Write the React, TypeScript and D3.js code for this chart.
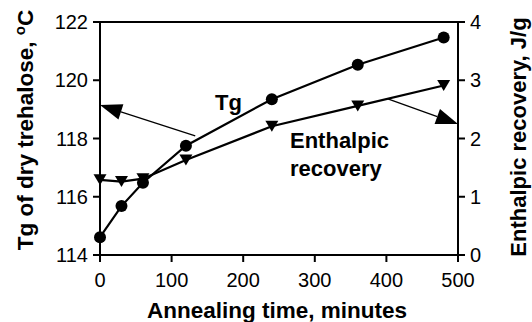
import React from "react";
import * as d3 from "d3";

// Annealing time (minutes) at which each sample was measured
const times = [0, 30, 60, 120, 240, 360, 480];
// Glass transition temperature of dry trehalose, °C (left axis)
const tgValues = [114.61, 115.68, 116.48, 117.75, 119.35, 120.53, 121.47];
// Enthalpic recovery, J/g (right axis)
const enthalpyValues = [1.29, 1.26, 1.31, 1.63, 2.21, 2.56, 2.91];

const xTicks = [0, 100, 200, 300, 400, 500];
const tgTicks = [114, 116, 118, 120, 122];
const enthalpyTicks = [0, 1, 2, 3, 4];

const W = 532;
const H = 322;
const margin = { left: 100, right: 74, top: 22, bottom: 67 };
const FONT = "'Liberation Sans', Arial, Helvetica, sans-serif";

export default function App() {
  const x = d3.scaleLinear().domain([0, 500]).range([margin.left, W - margin.right]);
  const yL = d3.scaleLinear().domain([114, 122]).range([H - margin.bottom, margin.top]);
  const yR = d3.scaleLinear().domain([0, 4]).range([H - margin.bottom, margin.top]);

  const tgLine = d3
    .line<number>()
    .x((_, i) => x(times[i]))
    .y((d) => yL(d));
  const enLine = d3
    .line<number>()
    .x((_, i) => x(times[i]))
    .y((d) => yR(d));

  const x0 = x(0);
  const x1 = x(500);
  const yb = yL(114);
  const yt = yL(122);

  // Callout arrow with a filled triangular head at (tx, ty)
  const arrow = (sx: number, sy: number, tx: number, ty: number, key: string) => {
    const dx = tx - sx;
    const dy = ty - sy;
    const len = Math.hypot(dx, dy);
    const ux = dx / len;
    const uy = dy / len;
    const hl = 22;
    const hw = 8;
    const bx = tx - ux * hl;
    const by = ty - uy * hl;
    const pts = [
      [tx, ty],
      [bx - uy * hw, by + ux * hw],
      [bx + uy * hw, by - ux * hw],
    ];
    return (
      <g key={key}>
        <line x1={sx} y1={sy} x2={bx} y2={by} stroke="#000" strokeWidth={1.3} />
        <polygon points={pts.map((p) => p.join(",")).join(" ")} fill="#000" />
      </g>
    );
  };

  const tri = (cx: number, cy: number) => {
    const w = 6.5;
    const h = 11;
    return `${cx - w},${cy - h / 2} ${cx + w},${cy - h / 2} ${cx},${cy + h / 2}`;
  };

  return (
    <svg
      width={W}
      height={H}
      style={{ position: "absolute", left: 0, top: 0, background: "#fff" }}
      fontFamily={FONT}
    >
      <rect width={W} height={H} fill="#fff" />

      {/* frame: left, right, bottom axes and top border */}
      <line x1={x0} y1={yt} x2={x1} y2={yt} stroke="#000" strokeWidth={2} />
      <line x1={x0} y1={yt - 1} x2={x0} y2={yb + 1} stroke="#000" strokeWidth={2} />
      <line x1={x1} y1={yt - 1} x2={x1} y2={yb + 1} stroke="#000" strokeWidth={2} />
      <line x1={x0} y1={yb} x2={x1} y2={yb} stroke="#000" strokeWidth={2} />

      {/* x ticks */}
      {xTicks.map((t) => (
        <g key={`xt${t}`}>
          <line x1={x(t)} y1={yb} x2={x(t)} y2={yb + 7} stroke="#000" strokeWidth={2} />
          <text x={x(t)} y={yb + 32} textAnchor="middle" fontSize={20}>
            {t}
          </text>
        </g>
      ))}

      {/* left ticks */}
      {tgTicks.map((t) => (
        <g key={`yl${t}`}>
          <line x1={x0 - 7} y1={yL(t)} x2={x0} y2={yL(t)} stroke="#000" strokeWidth={2} />
          <text x={x0 - 12} y={yL(t) + 7} textAnchor="end" fontSize={20}>
            {t}
          </text>
        </g>
      ))}

      {/* right ticks */}
      {enthalpyTicks.map((t) => (
        <g key={`yr${t}`}>
          <line x1={x1} y1={yR(t)} x2={x1 + 7} y2={yR(t)} stroke="#000" strokeWidth={2} />
          <text x={x1 + 12} y={yR(t) + 7} textAnchor="start" fontSize={20}>
            {t}
          </text>
        </g>
      ))}

      {/* series lines */}
      <path d={tgLine(tgValues) ?? ""} fill="none" stroke="#000" strokeWidth={2.2} />
      <path d={enLine(enthalpyValues) ?? ""} fill="none" stroke="#000" strokeWidth={2.2} />

      {/* markers */}
      {tgValues.map((v, i) => (
        <circle key={`c${i}`} cx={x(times[i])} cy={yL(v)} r={6} fill="#000" />
      ))}
      {enthalpyValues.map((v, i) => (
        <polygon key={`t${i}`} points={tri(x(times[i]), yR(v))} fill="#000" />
      ))}

      {/* callouts */}
      {arrow(x(133), yL(118.09), x(0), yL(119.15), "a1")}
      {arrow(x(402), yR(2.68), x(500), yR(2.25), "a2")}

      <text x={215} y={110} fontSize={22} fontWeight="bold">
        Tg
      </text>
      <text x={290} y={148} fontSize={22} fontWeight="bold">
        Enthalpic
      </text>
      <text x={290} y={176} fontSize={22} fontWeight="bold">
        recovery
      </text>

      {/* axis titles */}
      <text x={277} y={318} textAnchor="middle" fontSize={22.5} fontWeight="bold">
        Annealing time, minutes
      </text>
      <text
        transform={`translate(33, 130) rotate(-90)`}
        textAnchor="middle"
        fontSize={22.5}
        fontWeight="bold"
      >
        Tg of dry trehalose,{" "}
        <tspan dy={-8} fontSize={15}>
          o
        </tspan>
        <tspan dy={8}>C</tspan>
      </text>
      <text
        transform={`translate(526, 137) rotate(-90)`}
        textAnchor="middle"
        fontSize={22}
        fontWeight="bold"
      >
        Enthalpic recovery, J/g
      </text>
    </svg>
  );
}
